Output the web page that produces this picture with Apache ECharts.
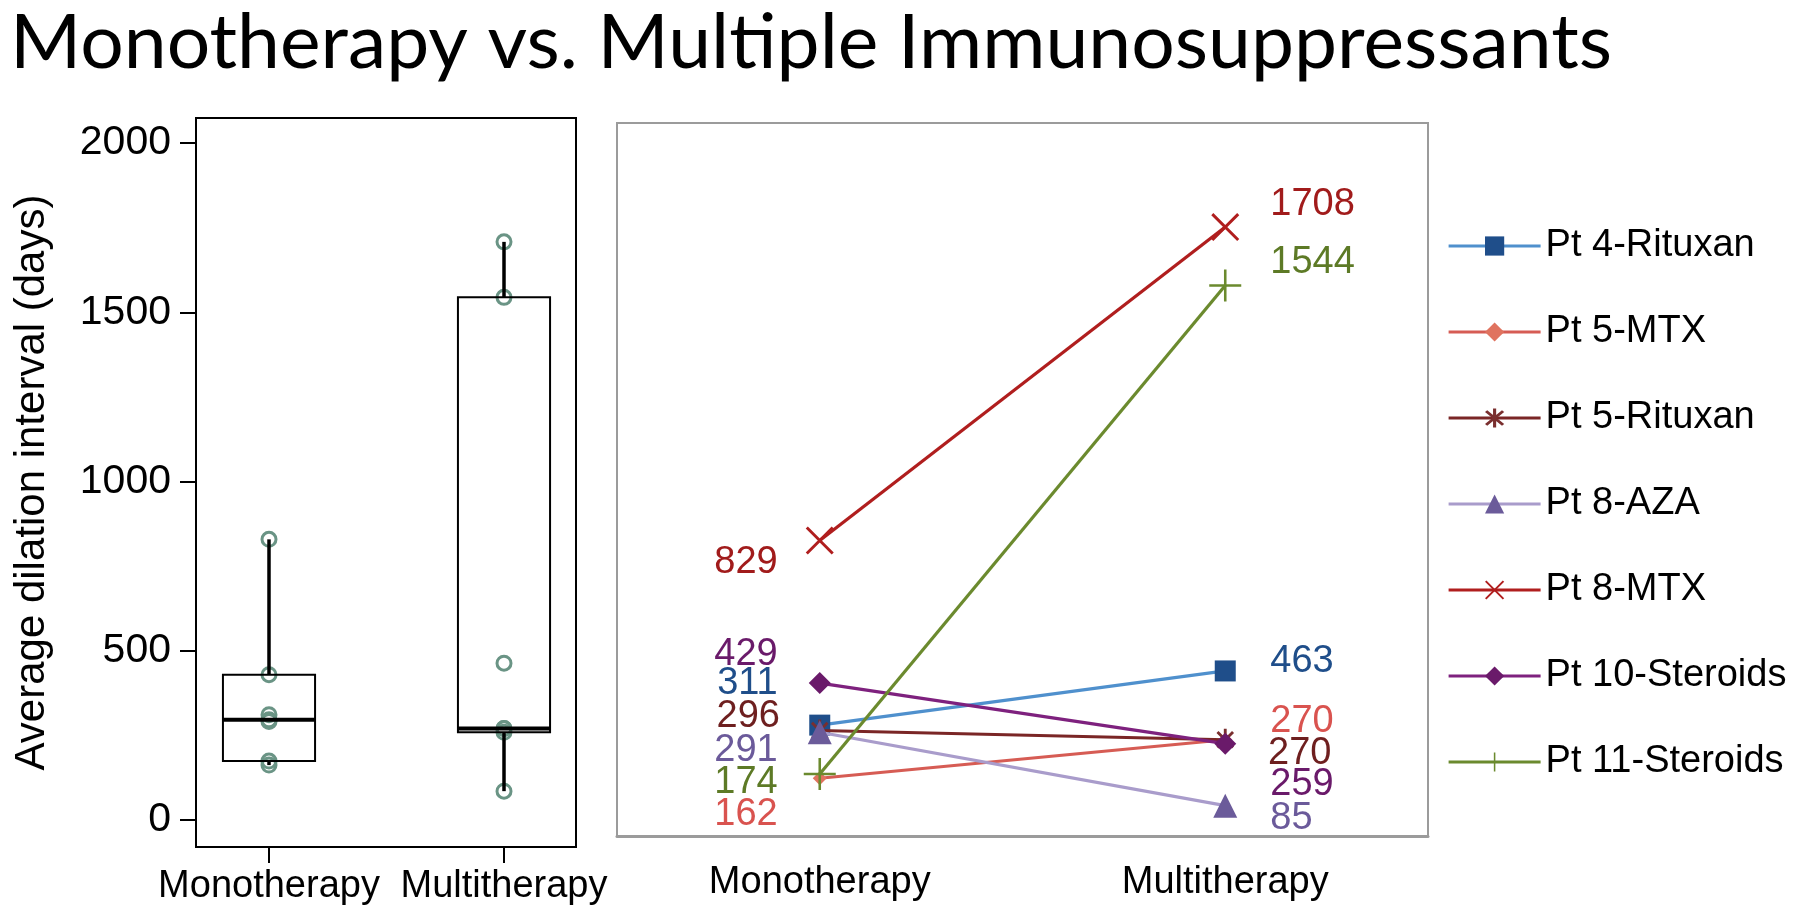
<!DOCTYPE html>
<html>
<head>
<meta charset="utf-8">
<script src="https://cdn.jsdelivr.net/npm/echarts@6/dist/echarts.min.js"></script>
<style>
html,body{margin:0;padding:0;background:#fff;}
#chart{width:1800px;height:921px;}
</style>
</head>
<body>
<div id="chart"></div>
<script>
// ---------------- data ----------------
const chartTitle = 'Monotherapy vs. Multiple Immunosuppressants';
const yAxisName = 'Average dilation interval (days)';
const categories = ['Monotherapy', 'Multitherapy'];
const patients = ['Pt 4-Rituxan', 'Pt 5-MTX', 'Pt 5-Rituxan', 'Pt 8-AZA', 'Pt 8-MTX', 'Pt 10-Steroids', 'Pt 11-Steroids'];
const monoValues = [311, 162, 296, 291, 829, 429, 174];
const multiValues = [463, 270, 270, 85, 1708, 259, 1544];
const yTicks = [0, 500, 1000, 1500, 2000];

// ---------------- styles ----------------
const FONT = 'Liberation Sans';
const lineColors   = ['#4f90cd', '#d65c54', '#7a2626', '#a99ccb', '#b01e1e', '#7e217e', '#6b8a2e'];
const markerColors = ['#1f4e8a', '#e0735f', '#7a2f2f', '#6b5b9a', '#b01e1e', '#6a1a6a', '#6b8a2e'];
const labelColors  = ['#1f4e8a', '#d9534f', '#6e1f1f', '#6b5a9a', '#a11b1b', '#6a1a6a', '#5d7a26'];
const monoLabelDy  = [-42, 36, -14, 18, 22, -29, 9];
const multiLabelDy = [-9, -18, 14, 13, -23, 41, -23];

function armsPath(angles, halfLen, halfThick) {
  let d = '';
  angles.forEach(function (a) {
    const r = a * Math.PI / 180, c = Math.cos(r), s = Math.sin(r);
    const px = -s, py = c;
    const pts = [
      [halfLen * c + halfThick * px, halfLen * s + halfThick * py],
      [halfLen * c - halfThick * px, halfLen * s - halfThick * py],
      [-halfLen * c - halfThick * px, -halfLen * s - halfThick * py],
      [-halfLen * c + halfThick * px, -halfLen * s + halfThick * py]
    ];
    d += 'M' + pts.map(function (p) { return p[0].toFixed(3) + ',' + p[1].toFixed(3); }).join('L') + 'Z';
  });
  return 'path://' + d;
}
const plusSym = armsPath([0, 90], 10, 0.8);
const crossSym = armsPath([45, 135], 10, 0.8);
const starSym = armsPath([90, 45, 135], 10, 1.3);
const symbols = ['rect', 'diamond', starSym, 'triangle', crossSym, 'diamond', plusSym];
const symbolSizes = [21, 14, 22, 24, 28, 22, 32];

// box statistics (median of halves method)
function median(arr) {
  const n = arr.length, m = Math.floor(n / 2);
  return n % 2 ? arr[m] : (arr[m - 1] + arr[m]) / 2;
}
function boxStats(vals) {
  const s = vals.slice().sort(function (a, b) { return a - b; });
  const n = s.length, h = Math.floor(n / 2);
  const lower = s.slice(0, h), upper = s.slice(n - h);
  return [s[0], median(lower), median(s), median(upper), s[n - 1]];
}
const boxData = [monoValues, multiValues].map(function (v, i) { return [i].concat(boxStats(v)); });
const pointData = monoValues.map(function (v) { return [0, v]; })
  .concat(multiValues.map(function (v) { return [1, v]; }));

// ---------------- chart ----------------
const chart = echarts.init(document.getElementById('chart'), null, {renderer: 'canvas'});

const mctx = document.createElement('canvas').getContext('2d');
mctx.font = '75px Lato';
const titleW = mctx.measureText(chartTitle).width;
const titleScale = 1602 / titleW;

const lineSeries = patients.map(function (name, i) {
  const sz = symbolSizes[i];
  return {
    name: name,
    type: 'line',
    xAxisIndex: 2,
    yAxisIndex: 2,
    symbol: symbols[i],
    symbolSize: sz,
    symbolKeepAspect: true,
    showAllSymbol: true,
    lineStyle: {color: lineColors[i], width: 3.2},
    itemStyle: {color: markerColors[i]},
    emphasis: {disabled: true},
    z: 3 + i,
    label: {show: true, fontSize: 38, fontFamily: FONT, color: labelColors[i]},
    data: [
      {value: monoValues[i], label: {position: 'left', distance: 42 - sz / 2, offset: [0, monoLabelDy[i]]}},
      {value: multiValues[i], label: {position: 'right', distance: 45 - sz / 2, offset: [0, multiLabelDy[i]]}}
    ]
  };
});

const option = {
  animation: false,
  textStyle: {fontFamily: FONT},
  graphic: [{
    type: 'text',
    x: 10,
    y: 44,
    scaleX: titleScale,
    style: {text: chartTitle, font: '75px Lato', fill: '#000', verticalAlign: 'middle', align: 'left'}
  }],
  legend: {
    data: patients,
    orient: 'vertical',
    left: 1447,
    top: 227,
    padding: 0,
    itemWidth: 92,
    itemHeight: 24,
    itemGap: 48,
    lineStyle: {width: 3.2},
    textStyle: {fontSize: 38, lineHeight: 38, color: '#000', fontFamily: FONT}
  },
  grid: [
    {left: 196, top: 118, width: 380, height: 729, show: true, borderColor: '#000', borderWidth: 2, backgroundColor: 'transparent'},
    {left: 151.5, top: 118, width: 470, height: 729},
    {left: 617, top: 123, width: 811, height: 713, show: true, borderColor: '#9b9b9b', borderWidth: 2, backgroundColor: 'transparent'}
  ],
  xAxis: [
    {gridIndex: 0, type: 'value', show: false, min: 0, max: 1},
    {gridIndex: 1, type: 'category', data: categories,
      axisLine: {show: false, onZero: false},
      axisTick: {show: true, alignWithLabel: true, interval: 0, length: 16, lineStyle: {color: '#000', width: 2}},
      axisLabel: {interval: 0, fontSize: 38, color: '#000', margin: 21, fontFamily: FONT}},
    {gridIndex: 2, type: 'category', data: categories,
      axisLine: {onZero: false, lineStyle: {color: '#9b9b9b', width: 3}},
      axisTick: {interval: 0, length: 11, lineStyle: {color: '#9b9b9b', width: 2}},
      axisLabel: {interval: 0, fontSize: 38, color: '#000', margin: 28, fontFamily: FONT}}
  ],
  yAxis: [
    {gridIndex: 0, type: 'value', min: -80, max: 2074,
      axisLine: {show: false}, splitLine: {show: false},
      axisTick: {show: true, length: 16, lineStyle: {color: '#000', width: 2}, customValues: yTicks},
      axisLabel: {customValues: yTicks, fontSize: 41, color: '#000', margin: 25, fontFamily: FONT,
        formatter: function (v) { return String(v); }},
      name: yAxisName, nameLocation: 'middle', nameGap: 143,
      nameTextStyle: {fontSize: 42, color: '#000', fontFamily: FONT}},
    {gridIndex: 1, type: 'value', min: -80, max: 2074, show: false, splitLine: {show: false}},
    {gridIndex: 2, type: 'value', min: 0, max: 2000, show: false, splitLine: {show: false}}
  ],
  series: [
    {
      type: 'scatter',
      xAxisIndex: 1, yAxisIndex: 1,
      symbol: 'circle', symbolSize: 14,
      itemStyle: {color: 'rgba(0,0,0,0)', borderColor: '#6a9485', borderWidth: 3, opacity: 1},
      emphasis: {disabled: true},
      z: 2,
      data: pointData
    },
    {
      type: 'custom',
      xAxisIndex: 1, yAxisIndex: 1,
      z: 3,
      data: boxData,
      renderItem: function (params, api) {
        const x = api.value(0);
        const pMin = api.coord([x, api.value(1)]);
        const pQ1 = api.coord([x, api.value(2)]);
        const pMed = api.coord([x, api.value(3)]);
        const pQ3 = api.coord([x, api.value(4)]);
        const pMax = api.coord([x, api.value(5)]);
        const halfW = api.size([1, 0])[0] * 0.196;
        const cx = pMed[0];
        return {
          type: 'group',
          children: [
            {type: 'line', shape: {x1: cx, y1: pQ3[1], x2: cx, y2: pMax[1]}, style: {stroke: '#000', lineWidth: 3.5}},
            {type: 'line', shape: {x1: cx, y1: pQ1[1], x2: cx, y2: pMin[1]}, style: {stroke: '#000', lineWidth: 3.5}},
            {type: 'rect', shape: {x: cx - halfW, y: pQ3[1], width: halfW * 2, height: pQ1[1] - pQ3[1]}, style: {fill: 'none', stroke: '#000', lineWidth: 2}},
            {type: 'line', shape: {x1: cx - halfW, y1: pMed[1], x2: cx + halfW, y2: pMed[1]}, style: {stroke: '#000', lineWidth: 4}}
          ]
        };
      }
    }
  ].concat(lineSeries)
};
chart.setOption(option);
</script>
</body>
</html>
